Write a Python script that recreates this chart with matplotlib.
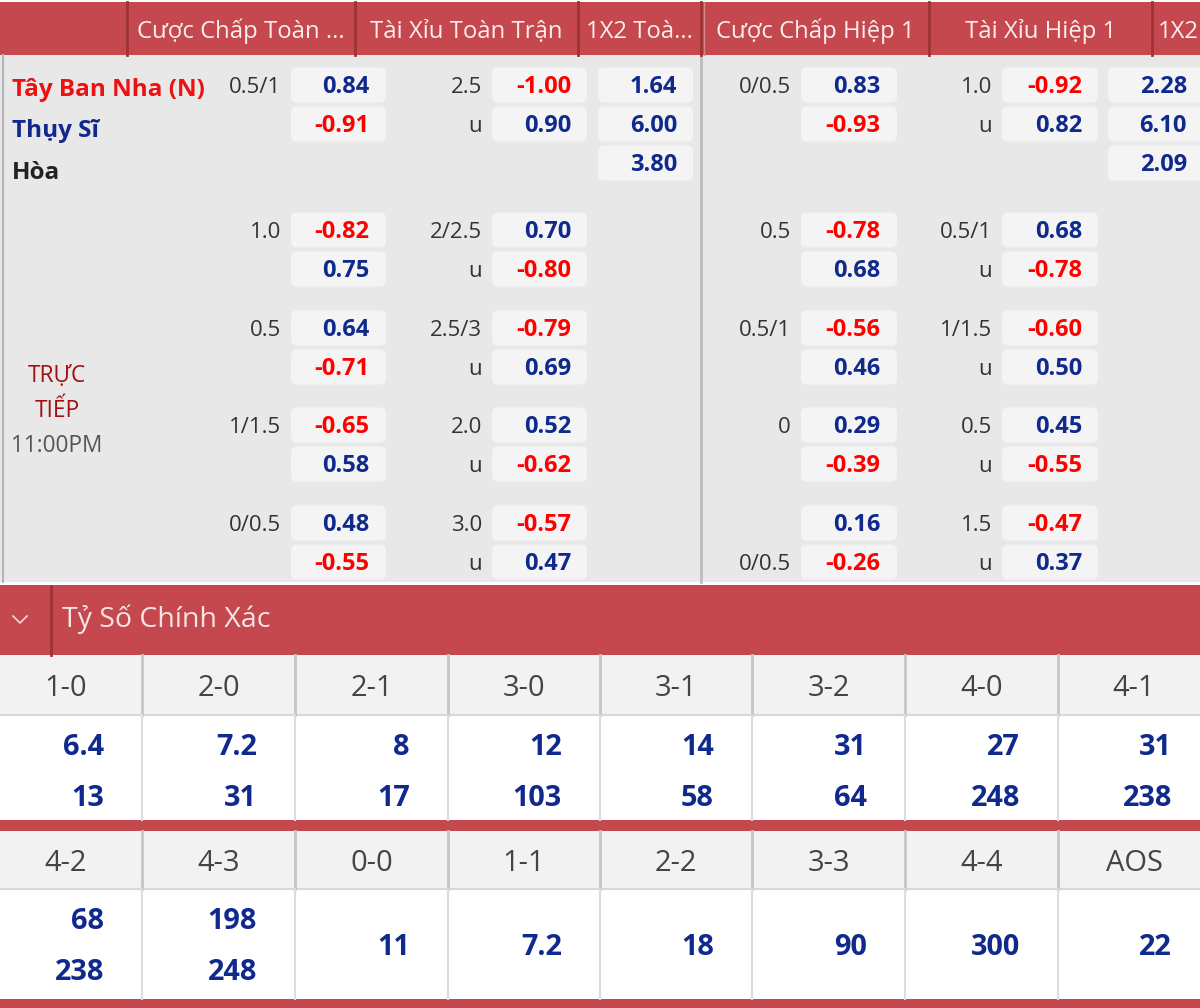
import matplotlib.pyplot as plt
from matplotlib.patches import Rectangle, FancyBboxPatch

plt.rcParams['font.family'] = ['Open Sans', 'Noto Sans', 'DejaVu Sans']

# dữ liệu
headers = ["Cược Chấp Toàn ...", "Tài Xỉu Toàn Trận", "1X2 Toà...",
           "Cược Chấp Hiệp 1", "Tài Xỉu Hiệp 1", "1X2"]
teams = ["Tây Ban Nha (N)", "Thụy Sĩ", "Hòa"]
team_colors = ["#ee1111", "#12288c", "#222222"]

hdp_ft_lines = [["0.5/1", ""], ["1.0", ""], ["0.5", ""], ["1/1.5", ""], ["0/0.5", ""]]
hdp_ft_odds = [[0.84, -0.91], [-0.82, 0.75], [0.64, -0.71], [-0.65, 0.58], [0.48, -0.55]]
ou_ft_lines = [["2.5", "u"], ["2/2.5", "u"], ["2.5/3", "u"], ["2.0", "u"], ["3.0", "u"]]
ou_ft_odds = [[-1.00, 0.90], [0.70, -0.80], [-0.79, 0.69], [0.52, -0.62], [-0.57, 0.47]]
x12_ft = [1.64, 6.00, 3.80]

hdp_h1_lines = [["0/0.5", ""], ["0.5", ""], ["0.5/1", ""], ["0", ""], ["", "0/0.5"]]
hdp_h1_odds = [[0.83, -0.93], [-0.78, 0.68], [-0.56, 0.46], [0.29, -0.39], [0.16, -0.26]]
ou_h1_lines = [["1.0", "u"], ["0.5/1", "u"], ["1/1.5", "u"], ["0.5", "u"], ["1.5", "u"]]
ou_h1_odds = [[-0.92, 0.82], [0.68, -0.78], [-0.60, 0.50], [0.45, -0.55], [-0.47, 0.37]]
x12_h1 = [2.28, 6.10, 2.09]

scores_1 = ["1-0", "2-0", "2-1", "3-0", "3-1", "3-2", "4-0", "4-1"]
home_1 = ["6.4", "7.2", "8", "12", "14", "31", "27", "31"]
away_1 = ["13", "31", "17", "103", "58", "64", "248", "238"]
scores_2 = ["4-2", "4-3", "0-0", "1-1", "2-2", "3-3", "4-4", "AOS"]
home_2 = ["68", "198", "11", "7.2", "18", "90", "300", "22"]
away_2 = ["238", "248", "", "", "", "", "", ""]

RED = "#c4484e"
DARK_RED = "#9c3338"
BLUE = "#10298c"
NEG = "#ff0000"
BG = "#e8e8e8"
BOX = "#f4f4f4"

W, H = 1200, 1008
fig = plt.figure(figsize=(12, 10.08), dpi=100)
ax = fig.add_axes([0, 0, 1, 1])
ax.set_xlim(0, W)
ax.set_ylim(H, 0)
ax.axis('off')


def rect(x0, y0, x1, y1, color, z=1):
    ax.add_patch(Rectangle((x0, y0), x1 - x0, y1 - y0, facecolor=color,
                           edgecolor='none', zorder=z))


def txt(x, y, s, size, color, weight='normal', ha='right'):
    # y = tâm của chữ số
    ax.text(x, y + 0.496 * size, s, fontsize=size, color=color,
            fontweight=weight, ha=ha, va='baseline', zorder=5)


def odd(x, y, v):
    txt(x, y, f"{v:.2f}", 17, NEG if v < 0 else BLUE, 'bold')


def box(x0, x1, y):
    ax.add_patch(FancyBboxPatch((x0, y - 17.5), x1 - x0, 35,
                                boxstyle="round,pad=0,rounding_size=6",
                                facecolor=BOX, edgecolor='none', zorder=3))


# nền
rect(0, 0, W, H, "white", 0)
rect(0, 2, W, 55, RED)
rect(0, 55, W, 582, BG)
ax.plot([3, 3], [55, 582], color="#b5b5b5", lw=1.5, zorder=2)
ax.plot([701, 701], [55, 582], color="#bdbdbd", lw=2, zorder=2)

# header
head_edges = [127, 355, 578, 701, 929, 1152, 1275]
for xe in head_edges[:-1]:
    ax.plot([xe, xe], [2, 55], color=DARK_RED, lw=2, zorder=2)
ax.plot([704, 704], [2, 55], color="#d9868a", lw=1, zorder=2)
for i, h in enumerate(headers):
    if i < len(headers) - 1:
        txt((head_edges[i] + head_edges[i + 1]) / 2, 29, h, 17.2, "#fbeeee", ha='center')
    else:
        txt(1158, 29, h, 17.2, "#fbeeee", ha='left')

# tên đội
for name, c, y in zip(teams, team_colors, [87, 128, 170]):
    txt(12, y, name, 17.5, c, 'bold', ha='left')

txt(57, 374, "TRỰC", 16.3, "#a30f0f", ha='center')
txt(57, 409, "TIẾP", 16.3, "#a30f0f", ha='center')
txt(57, 444, "11:00PM", 16.3, "#555555", ha='center')

# cột kèo: (label right, box left, box right, value right)
cols = [(281, 291, 386, 369), (482, 492, 587, 571), (None, 598, 693, 677),
        (791, 801, 897, 880), (992, 1002, 1098, 1082), (None, 1108, 1204, 1187)]
block_y = [85, 230, 328, 425, 523]
step = 39

groups = [(0, hdp_ft_lines, hdp_ft_odds), (1, ou_ft_lines, ou_ft_odds),
          (3, hdp_h1_lines, hdp_h1_odds), (4, ou_h1_lines, ou_h1_odds)]
for ci, lines, odds in groups:
    lr, bl, br, vr = cols[ci]
    for by, lab, od in zip(block_y, lines, odds):
        for k in range(2):
            y = by + k * step
            box(bl, br, y)
            odd(vr, y, od[k])
            if lab[k]:
                txt(lr, y, lab[k], 16, "#333333")

for ci, vals in [(2, x12_ft), (5, x12_h1)]:
    lr, bl, br, vr = cols[ci]
    for k, v in enumerate(vals):
        y = block_y[0] + k * step
        box(bl, br, y)
        odd(vr, y, v)

# Tỷ số chính xác
rect(0, 585, W, 655, RED)
ax.plot([51, 51], [586, 655], color=DARK_RED, lw=2, zorder=2)
ax.plot([13, 20, 27], [616, 623, 616], color="#f2d6d6", lw=1.2, zorder=3)
txt(62, 617, "Tỷ Số Chính Xác", 20.5, "#f7e4e4", ha='left')

edges = [-10, 142, 295, 448, 600, 752, 905, 1058, 1210]
tables = [(655, 715, 820, scores_1, home_1, away_1),
          (831, 889, 999, scores_2, home_2, away_2)]
for top, mid, bot, labels, home, away in tables:
    rect(0, top, W, mid, "#f2f2f2")
    rect(0, mid, W, bot, "white")
    ax.plot([0, W], [mid, mid], color="#d8d8d8", lw=1.5, zorder=2)
    for xe in edges[1:-1]:
        ax.plot([xe, xe], [top, mid], color="#c6c6c6", lw=2, zorder=2)
        ax.plot([xe, xe], [mid, bot], color="#dcdcdc", lw=1.5, zorder=2)
    for i, lab in enumerate(labels):
        x0, x1 = edges[i], edges[i + 1]
        txt((x0 + x1) / 2, (top + mid) / 2 + 1, lab, 21, "#444444", ha='center')
        if away[i]:
            txt(x1 - 38, mid + 30, home[i], 20.8, BLUE, 'bold')
            txt(x1 - 38, mid + 81, away[i], 20.8, BLUE, 'bold')
        else:
            txt(x1 - 38, mid + 56, home[i], 20.8, BLUE, 'bold')

rect(0, 820, W, 831, RED)
rect(0, 999, W, H, RED)

fig.savefig("out.png", dpi=100)
